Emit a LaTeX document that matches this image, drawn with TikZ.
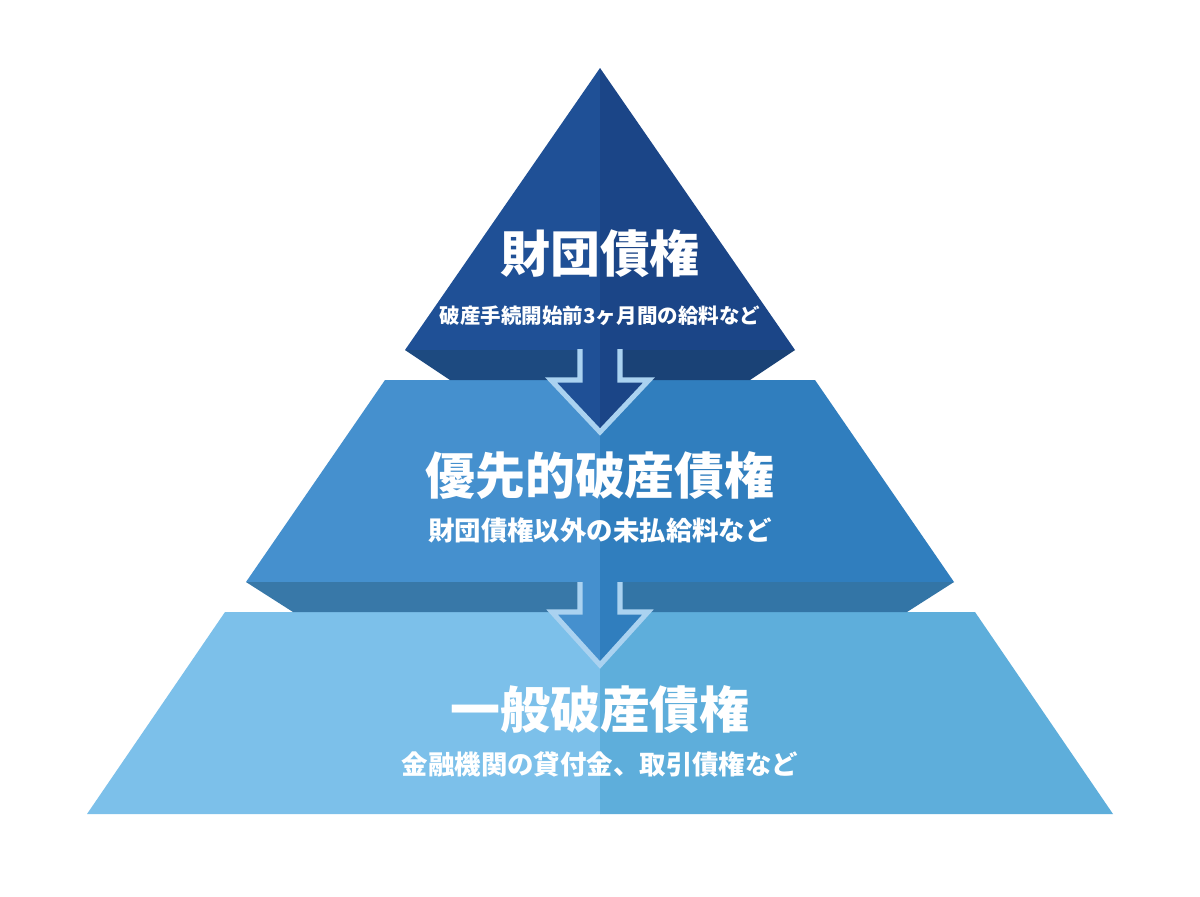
\documentclass[tikz,border=0pt]{standalone}
\usepackage{fontspec}
\newfontfamily\jp{Noto Sans CJK JP}
\definecolor{topL}{HTML}{1F5096}
\definecolor{topR}{HTML}{1B4587}
\definecolor{topBevL}{HTML}{1D4A80}
\definecolor{topBevR}{HTML}{1A4276}
\definecolor{midL}{HTML}{4590CE}
\definecolor{midR}{HTML}{307EBE}
\definecolor{midBevL}{HTML}{3878A8}
\definecolor{midBevR}{HTML}{3375A6}
\definecolor{lowL}{HTML}{7CC0EA}
\definecolor{lowR}{HTML}{5EAEDB}
\definecolor{arrowline}{HTML}{AAD2F0}
\begin{document}
\begin{tikzpicture}[x=0.025cm, y=-0.025cm,
  title/.style={text=white, inner sep=0pt, font=\jp\bfseries\fontsize{35.5pt}{40pt}\selectfont},
  sub/.style={text=white, inner sep=0pt, font=\jp\bfseries\fontsize{18.8pt}{22pt}\selectfont},
  arrowedge/.style={draw=arrowline, line width=3.6pt, line join=miter}]
\useasboundingbox[fill=white] (0,0) rectangle (1200,896);
\fill[lowL] (225,612) -- (600,612) -- (600,814) -- (87,814) -- cycle;
\fill[lowR] (600,612) -- (975,612) -- (1113,814) -- (600,814) -- cycle;
\fill[midL] (385,380) -- (600,380) -- (600,582) -- (246,582) -- cycle;
\fill[midR] (600,380) -- (815,380) -- (954,582) -- (600,582) -- cycle;
\fill[midBevL] (246,582) -- (600,582) -- (600,612) -- (293,612) -- cycle;
\fill[midBevR] (600,582) -- (954,582) -- (907,612) -- (600,612) -- cycle;
\fill[topL] (600,68) -- (600,350) -- (405,350) -- cycle;
\fill[topR] (600,68) -- (795,350) -- (600,350) -- cycle;
\fill[topBevL] (405,350) -- (600,350) -- (600,380) -- (450,380) -- cycle;
\fill[topBevR] (600,350) -- (795,350) -- (750,380) -- (600,380) -- cycle;
\fill[topL] (580,349) -- (580,380) -- (551,380) -- (600,432) -- (600,349) -- cycle;
\fill[topR] (620,349) -- (620,380) -- (649,380) -- (600,432) -- (600,349) -- cycle;
\draw[arrowedge] (580,349) -- (580,380) -- (551,380) -- (600,432) -- (649,380) -- (620,380) -- (620,349);
\fill[midL] (580,582) -- (580,612) -- (552,612) -- (600,665) -- (600,582) -- cycle;
\fill[midR] (620,582) -- (620,612) -- (648,612) -- (600,665) -- (600,582) -- cycle;
\draw[arrowedge] (580,582) -- (580,612) -- (552,612) -- (600,665) -- (648,612) -- (620,612) -- (620,582);
\node[title] (zaidan) at (600,254) {財団債権};
\node[sub, font=\jp\bfseries\fontsize{14.6pt}{17pt}\selectfont] (zaidansub) at (600,316) {破産手続開始前3ヶ月間の給料など};
\node[title] (yusen) at (600,476) {優先的破産債権};
\node[sub] (yusensub) at (600,530) {財団債権以外の未払給料など};
\node[title] (ippan) at (600,710) {一般破産債権};
\node[sub] (ippansub) at (600,764) {金融機関の貸付金、取引債権など};
\end{tikzpicture}
\end{document}
